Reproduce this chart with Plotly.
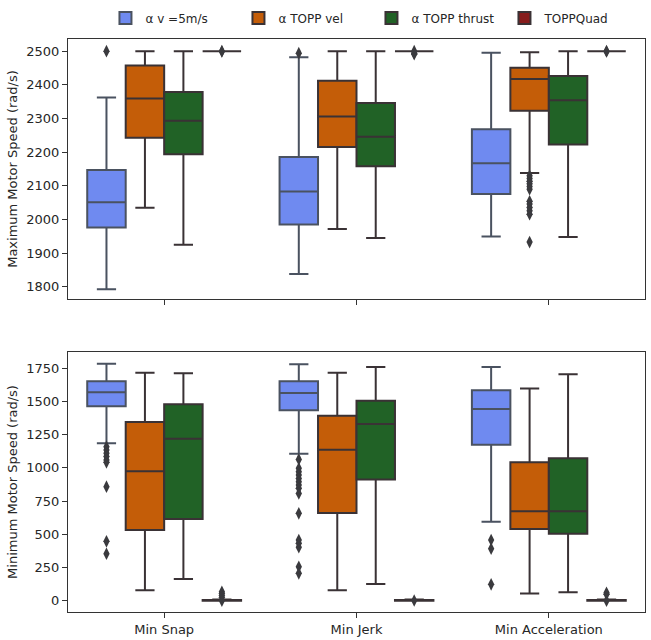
import plotly.graph_objects as go
from plotly.subplots import make_subplots

categories = ["Min Snap", "Min Jerk", "Min Acceleration"]
series_names = ["α v =5m/s", "α TOPP vel", "α TOPP thrust", "TOPPQuad"]
fill_colors = ["#6f8af0", "#c45d08", "#216226", "#871c1c"]
edge_colors = ["#4a5260", "#3a3235", "#3a3235", "#3a3235"]

# ---- Maximum motor speed (top) ----
max_lower = [[1793, 1838, 1950], [2035, 1972, 2138], [1925, 1945, 1948], [2500, 2500, 2500]]
max_q1 = [[1976, 1985, 2076], [2243, 2215, 2323], [2194, 2158, 2223], [2500, 2500, 2500]]
max_median = [[2051, 2083, 2167], [2359, 2306, 2417], [2293, 2246, 2354], [2500, 2500, 2500]]
max_q3 = [[2147, 2186, 2268], [2457, 2412, 2451], [2379, 2346, 2426], [2500, 2500, 2500]]
max_upper = [[2362, 2482, 2495], [2500, 2500, 2497], [2500, 2500, 2500], [2500, 2500, 2500]]
max_outliers = [
    [[2500], [2494], []],
    [[], [], [2130, 2122, 2114, 2106, 2098, 2090, 2054, 2046, 2036, 2026, 2016, 1933]],
    [[], [], []],
    [[2499, 2500], [2500, 2494, 2491], [2500, 2499]],
]

# ---- Minimum motor speed (bottom) ----
min_lower = [[1185, 1107, 595], [78, 78, 55], [163, 126, 63], [0, 0, 0]]
min_q1 = [[1464, 1434, 1175], [532, 660, 540], [616, 912, 505], [0, 0, 0]]
min_median = [[1569, 1564, 1444], [974, 1137, 673], [1220, 1331, 673], [3, 3, 3]]
min_q3 = [[1653, 1652, 1584], [1346, 1393, 1042], [1479, 1506, 1072], [6, 6, 6]]
min_upper = [[1785, 1780, 1760], [1717, 1717, 1597], [1712, 1760, 1705], [10, 10, 10]]
min_outliers = [
    [[1160, 1135, 1110, 1085, 1060, 1042, 859, 447, 354],
     [1064, 997, 972, 947, 921, 896, 871, 846, 808, 658, 457, 432, 402, 256, 206],
     [457, 392, 123]],
    [[], [], []],
    [[], [], []],
    [[68, 55, 40, 25, 0], [2], [60, 48, 0]],
]

y_ticks_top = [1800, 1900, 2000, 2100, 2200, 2300, 2400, 2500]
y_ticks_bottom = [0, 250, 500, 750, 1000, 1250, 1500, 1750]

n_groups = len(series_names)
box_w = 0.8 / n_groups


def xpos(cat_idx, grp_idx):
    return cat_idx - 0.4 + box_w * (grp_idx + 0.5)


fig = make_subplots(rows=2, cols=1, vertical_spacing=0.0924)

panels = [
    (1, max_lower, max_q1, max_median, max_q3, max_upper, max_outliers),
    (2, min_lower, min_q1, min_median, min_q3, min_upper, min_outliers),
]

for row, lo, q1, med, q3, up, outs in panels:
    for g in range(n_groups):
        xs = [xpos(c, g) for c in range(len(categories))]
        fig.add_trace(go.Box(
            x=xs, q1=q1[g], median=med[g], q3=q3[g],
            lowerfence=lo[g], upperfence=up[g],
            width=box_w, whiskerwidth=0.5,
            fillcolor=fill_colors[g],
            line=dict(color=edge_colors[g], width=2),
            name=series_names[g], legendgroup=series_names[g],
            showlegend=(row == 1), boxpoints=False, hoverinfo="skip",
        ), row=row, col=1)
        ox, oy = [], []
        for c in range(len(categories)):
            for v in outs[g][c]:
                ox.append(xpos(c, g))
                oy.append(v)
        if ox:
            fig.add_trace(go.Scatter(
                x=ox, y=oy, mode="markers",
                marker=dict(symbol="diamond-tall", size=9, color="#3a3a3e"),
                showlegend=False, hoverinfo="skip",
            ), row=row, col=1)

tick_font = dict(family="DejaVu Sans", size=13, color="#262626")
axis_common = dict(showline=True, linecolor="#333333", linewidth=1, mirror=True,
                   ticks="outside", ticklen=5, tickcolor="#333333",
                   showgrid=False, zeroline=False, automargin=False,
                   tickfont=tick_font)

fig.update_xaxes(range=[-0.5, 2.5], tickvals=[0, 1, 2], ticktext=["", "", ""], row=1, col=1, **axis_common)
fig.update_xaxes(range=[-0.5, 2.5], tickvals=[0, 1, 2], ticktext=categories, row=2, col=1, **axis_common)
fig.update_yaxes(range=[1764, 2536], tickvals=y_ticks_top,
                 title=dict(text="Maximum Motor Speed (rad/s)", font=tick_font, standoff=5),
                 row=1, col=1, **axis_common)
fig.update_yaxes(range=[-85, 1873], tickvals=y_ticks_bottom,
                 title=dict(text="Minimum Motor Speed (rad/s)", font=tick_font, standoff=5),
                 row=2, col=1, **axis_common)

fig.update_layout(
    width=651, height=640,
    margin=dict(l=68, r=6, t=39, b=28, autoexpand=False),
    paper_bgcolor="white", plot_bgcolor="white",
    boxmode="overlay",
    font=dict(family="DejaVu Sans", size=13, color="#262626"),
    legend=dict(orientation="h", x=0.162, xanchor="left", xref="container",
                y=0.972, yanchor="middle", yref="container",
                entrywidth=88, entrywidthmode="pixels",
                font=dict(family="DejaVu Sans", size=12, color="#262626"),
                bgcolor="rgba(0,0,0,0)"),
)

fig.write_html("out.html", post_script="document.body.style.margin='0px';",
               config={"displayModeBar": False})
